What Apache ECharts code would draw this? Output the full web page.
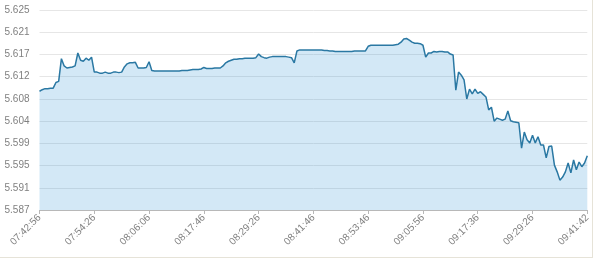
<!DOCTYPE html>
<html>
<head>
<meta charset="utf-8">
<script src="https://cdn.jsdelivr.net/npm/echarts@6/dist/echarts.min.js"></script>
<style>
html,body{margin:0;padding:0;background:#fff;}
#frame{position:absolute;left:0;top:0;width:592px;height:257px;border-right:1px solid #e6e3d8;border-bottom:1px solid #e6e3d8;}
#chart{position:absolute;left:0;top:0;width:600px;height:261px;}
</style>
</head>
<body>
<div id="frame"></div>
<div id="chart"></div>
<script>
// Tick labels shown on the x axis (every 20th point)
const tickLabels = ["07:42:56","07:54:26","08:06:06","08:17:46","08:29:26","08:41:46","08:53:46","09:05:56","09:17:36","09:29:26","09:41:42"];
const labelStep = 20;

// Rate values
const rates = [
5.6095,5.6098,5.6100,5.6100,5.6101,5.6101,5.6112,5.6114,5.6158,5.6144,
5.6140,5.6141,5.6142,5.6144,5.6169,5.6155,5.6153,5.6159,5.6155,5.6161,
5.6132,5.6132,5.6130,5.6130,5.6132,5.6130,5.6130,5.6132,5.6132,5.6131,
5.6132,5.6142,5.6148,5.6150,5.6150,5.6151,5.6140,5.6140,5.6140,5.6141,
5.6152,5.6135,5.6134,5.6134,5.6134,5.6134,5.6134,5.6134,5.6134,5.6134,
5.6134,5.6134,5.6135,5.6135,5.6135,5.6136,5.6137,5.6137,5.6137,5.6138,
5.6141,5.6139,5.6139,5.6139,5.6140,5.6140,5.6140,5.6144,5.6150,5.6153,
5.6155,5.6157,5.6157,5.6158,5.6158,5.6159,5.6159,5.6159,5.6159,5.6160,
5.6167,5.6162,5.6160,5.6159,5.6161,5.6162,5.6162,5.6162,5.6162,5.6162,
5.6162,5.6161,5.6160,5.6150,5.6173,5.6175,5.6175,5.6175,5.6175,5.6175,
5.6175,5.6175,5.6175,5.6175,5.6174,5.6174,5.6173,5.6173,5.6172,5.6172,
5.6172,5.6172,5.6172,5.6172,5.6172,5.6173,5.6173,5.6173,5.6173,5.6173,
5.6182,5.6184,5.6184,5.6184,5.6184,5.6184,5.6184,5.6184,5.6184,5.6184,
5.6185,5.6186,5.6190,5.6196,5.6197,5.6194,5.6190,5.6188,5.6188,5.6187,
5.6184,5.6161,5.6169,5.6169,5.6172,5.6171,5.6172,5.6172,5.6171,5.6171,
5.6167,5.6165,5.6097,5.6132,5.6126,5.6117,5.6080,5.6099,5.6090,5.6099,
5.6091,5.6094,5.6089,5.6084,5.6059,5.6064,5.6037,5.6043,5.6041,5.6039,
5.6041,5.6057,5.6038,5.6036,5.6035,5.6034,5.5985,5.6016,5.6001,5.5995,
5.6010,5.5995,5.6007,5.5991,5.5991,5.5966,5.5988,5.5989,5.5952,5.5939,
5.5923,5.5929,5.5939,5.5956,5.5937,5.5962,5.5943,5.5958,5.5949,5.5956,
5.5970
];

// y-axis range
const yMin = 5.58652;
const yMax = 5.62522;
const yStep = 0.0043;

const categories = rates.map((_, i) => String(i));

const chart = echarts.init(document.getElementById('chart'), null, {renderer: 'canvas'});
chart.setOption({
  animation: false,
  backgroundColor: 'transparent',
  grid: {left: 39.5, right: 12.7, top: 10, bottom: 51, containLabel: false},
  xAxis: {
    type: 'category',
    data: categories,
    boundaryGap: false,
    axisLine: {show: true, lineStyle: {color: '#b8b8b8', width: 1}},
    axisTick: {show: true, interval: labelStep - 1, length: 4, lineStyle: {color: '#b8b8b8'}},
    axisLabel: {
      interval: labelStep - 1,
      rotate: 45,
      fontSize: 10,
      fontFamily: 'Liberation Sans, Arial, sans-serif',
      color: '#808080',
      margin: 6,
      formatter: (v, idx) => tickLabels[Math.round(idx / labelStep)] || ''
    },
    splitLine: {show: false}
  },
  yAxis: {
    type: 'value',
    min: yMin,
    max: yMax,
    interval: yStep,
    axisLine: {show: false},
    axisTick: {show: false},
    axisLabel: {
      fontSize: 10,
      fontFamily: 'Liberation Sans, Arial, sans-serif',
      color: '#808080',
      margin: 10,
      formatter: v => v.toFixed(3)
    },
    splitLine: {show: true, lineStyle: {color: '#e6e6e6', width: 1}}
  },
  series: [{
    type: 'line',
    data: rates,
    showSymbol: false,
    lineStyle: {color: '#2a78a3', width: 1.5},
    itemStyle: {color: '#2a78a3'},
    areaStyle: {color: 'rgba(66,156,218,0.33)', origin: 'start'}
  }]
});
</script>
</body>
</html>
